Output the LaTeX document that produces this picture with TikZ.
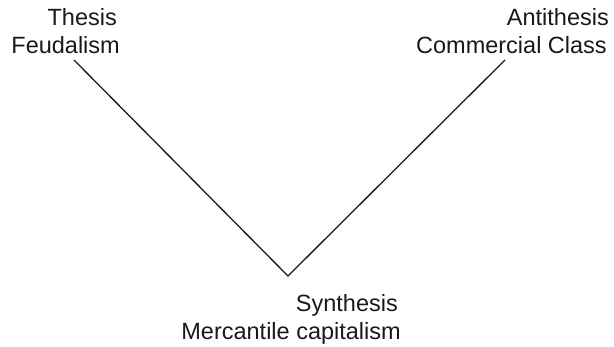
\documentclass[tikz,border=0pt]{standalone}
\usepackage{fontspec}
\setmainfont{Liberation Sans}
\begin{document}
\begin{tikzpicture}[x=1pt,y=-1pt,
  lbl/.style={inner sep=0pt, anchor=base east, font=\fontsize{23.5}{28}\selectfont, text=black!90},
  conn/.style={line width=1.3pt, black!90, line join=miter}]
\useasboundingbox (0,0) rectangle (614,347);
\node[lbl] (thesis) at (117,26) {Thesis};
\node[lbl] (feud) at (120,54) {Feudalism};
\node[lbl] (anti) at (609,26) {Antithesis};
\node[lbl] (comm) at (607,54) {Commercial Class};
\node[lbl] (synth) at (398,312) {Synthesis};
\node[lbl] (merc) at (401,340) {Mercantile capitalism};
\coordinate (a) at (74,60);
\coordinate (v) at (288,276);
\coordinate (b) at (505,60);
\draw[conn] (a) -- (v) -- (b);
\end{tikzpicture}
\end{document}
